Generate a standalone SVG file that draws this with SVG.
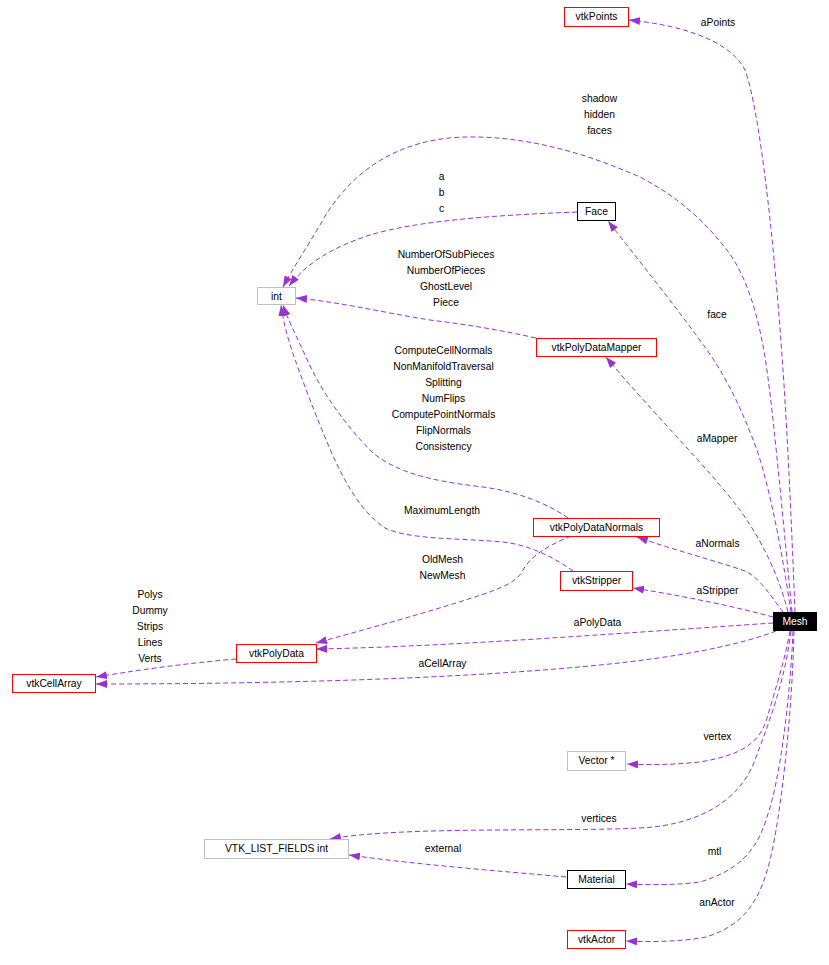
<svg xmlns="http://www.w3.org/2000/svg" width="829" height="965" viewBox="0 0 829 965">
<style>
text{font-family:"Liberation Sans",Arial,sans-serif;font-size:10.3px;fill:#000;text-anchor:middle}
.n rect{fill:#fff;stroke-width:1}
.red rect{stroke:#ff0000}
.blk rect{stroke:#000}
.gry rect{stroke:#bfbfbf}
.e path{fill:none;stroke:#9a32cd;stroke-width:1;stroke-dasharray:5,3;marker-end:url(#ah)}
</style>
<defs>
<marker id="ah" viewBox="0 0 11 8" refX="11" refY="4" markerWidth="11" markerHeight="8" markerUnits="userSpaceOnUse" orient="auto">
<path d="M0,0 L11,4 L0,8 z" fill="#9a32cd"/>
</marker>
</defs>
<rect width="829" height="965" fill="#fff"/>
<g id="connectors" class="e">
<path d="M795,612 C793,560 788,440 783,370 C775,250 760,110 745,70 C730,40 680,25 629,20"/>
<path d="M792,612 C785,540 775,430 768,378 C762,330 750,280 727,250 C705,222 680,198 640,177 C590,155 530,136 467,137 C400,138 350,170 320,225 C305,250 292,270 283,287"/>
<path d="M791,612 C784,565 772,495 757,450 C742,410 728,380 707,350 C680,312 640,262 608,221"/>
<path d="M788,612 C780,580 765,545 740,510 C710,470 650,410 606,357"/>
<path d="M783,612 C770,595 760,578 745,571 C720,562 680,552 637,537"/>
<path d="M773,617 C740,608 690,597 633,588"/>
<path d="M773,623 C700,628 600,635 520,640 C440,645 370,648 316,649"/>
<path d="M776,631 C740,645 680,657 600,665 C450,680 250,684 96,684"/>
<path d="M571,536 C550,545 530,555 522,572 C515,583 500,588 487,593 C430,612 370,628 316,643"/>
<path d="M577,212 C500,215 420,220 370,235 C330,248 305,265 289,286"/>
<path d="M536,338 C500,330 470,325 430,320 C380,312 340,302 296,298"/>
<path d="M568,518 C550,505 520,492 483,487 C440,482 400,475 373,453 C345,425 320,390 305,355 C296,335 288,320 283,305"/>
<path d="M573,571 C555,558 530,545 503,542 C460,538 410,540 385,528 C350,505 330,450 310,400 C295,360 285,335 281,305"/>
<path d="M236,659 C200,662 150,668 96,677"/>
<path d="M790,631 C785,660 775,690 768,715 C760,745 740,755 700,762 C670,765 650,765 627,764"/>
<path d="M791,631 C785,680 770,720 755,760 C740,800 700,825 640,828 C560,832 400,826 330,839"/>
<path d="M566,877 C500,871 420,865 349,855"/>
<path d="M793,631 C790,700 780,780 767,817 C757,850 740,870 700,882 C680,885 650,885 626,884"/>
<path d="M794,631 C792,720 780,820 770,860 C760,900 745,925 706,937 C680,942 650,942 626,941"/>
</g>
<g id="labels">
<text x="718" y="25.5">aPoints</text>
<text x="599.5" y="102">shadow</text>
<text x="599.5" y="118">hidden</text>
<text x="599.5" y="134">faces</text>
<text x="441.5" y="180">a</text>
<text x="441.5" y="196">b</text>
<text x="441.5" y="212">c</text>
<text x="446" y="257.5">NumberOfSubPieces</text>
<text x="446" y="273.5">NumberOfPieces</text>
<text x="446" y="289.5">GhostLevel</text>
<text x="446" y="305.5">Piece</text>
<text x="717" y="317.5">face</text>
<text x="443.5" y="354">ComputeCellNormals</text>
<text x="443.5" y="370">NonManifoldTraversal</text>
<text x="443.5" y="386">Splitting</text>
<text x="443.5" y="402">NumFlips</text>
<text x="443.5" y="418">ComputePointNormals</text>
<text x="443.5" y="434">FlipNormals</text>
<text x="443.5" y="450">Consistency</text>
<text x="717" y="441.5">aMapper</text>
<text x="442" y="514">MaximumLength</text>
<text x="717.5" y="546.5">aNormals</text>
<text x="442.5" y="562.5">OldMesh</text>
<text x="442.5" y="578.5">NewMesh</text>
<text x="717.5" y="593.5">aStripper</text>
<text x="150" y="597.5">Polys</text>
<text x="150" y="613.5">Dummy</text>
<text x="150" y="629.5">Strips</text>
<text x="150" y="645.5">Lines</text>
<text x="150" y="661.5">Verts</text>
<text x="597.5" y="625.5">aPolyData</text>
<text x="442.5" y="666.5">aCellArray</text>
<text x="717.5" y="739.5">vertex</text>
<text x="599" y="821.5">vertices</text>
<text x="443" y="851.5">external</text>
<text x="714.5" y="854.5">mtl</text>
<text x="717" y="905.5">anActor</text>
</g>
<g id="vtkPoints" class="n red"><rect x="564.5" y="7.5" width="64" height="19"/><text x="596.5" y="20">vtkPoints</text></g>
<g id="Face" class="n blk"><rect x="577.5" y="202.5" width="38" height="18"/><text x="596.5" y="214.5">Face</text></g>
<g id="int" class="n gry"><rect x="257.5" y="287.5" width="38" height="17"/><text x="276.5" y="299.5">int</text></g>
<g id="vtkPolyDataMapper" class="n red"><rect x="536.5" y="338.5" width="120" height="18"/><text x="596.5" y="350.5">vtkPolyDataMapper</text></g>
<g id="vtkPolyDataNormals" class="n red"><rect x="533.5" y="518.5" width="126" height="18"/><text x="596.5" y="530.5">vtkPolyDataNormals</text></g>
<g id="vtkStripper" class="n red"><rect x="560.5" y="571.5" width="72" height="19"/><text x="596.5" y="583.5">vtkStripper</text></g>
<g id="Mesh"><rect x="773" y="612" width="44" height="19" fill="#000"/><text x="795" y="624.5" style="fill:#fff">Mesh</text></g>
<g id="vtkPolyData" class="n red"><rect x="236.5" y="644.5" width="80" height="18"/><text x="276.5" y="656.5">vtkPolyData</text></g>
<g id="vtkCellArray" class="n red"><rect x="12.5" y="674.5" width="83" height="18"/><text x="54" y="686.5">vtkCellArray</text></g>
<g id="Vector" class="n gry"><rect x="567.5" y="751.5" width="58" height="19"/><text x="596.5" y="763.5">Vector *</text></g>
<g id="VTK_LIST_FIELDS_int" class="n gry"><rect x="204.5" y="839.5" width="144" height="19"/><text x="276.5" y="851.5">VTK_LIST_FIELDS int</text></g>
<g id="Material" class="n blk"><rect x="567.5" y="870.5" width="58" height="18"/><text x="596.5" y="882.5">Material</text></g>
<g id="vtkActor" class="n red"><rect x="567.5" y="930.5" width="58" height="18"/><text x="596.5" y="942.5">vtkActor</text></g>
</svg>
